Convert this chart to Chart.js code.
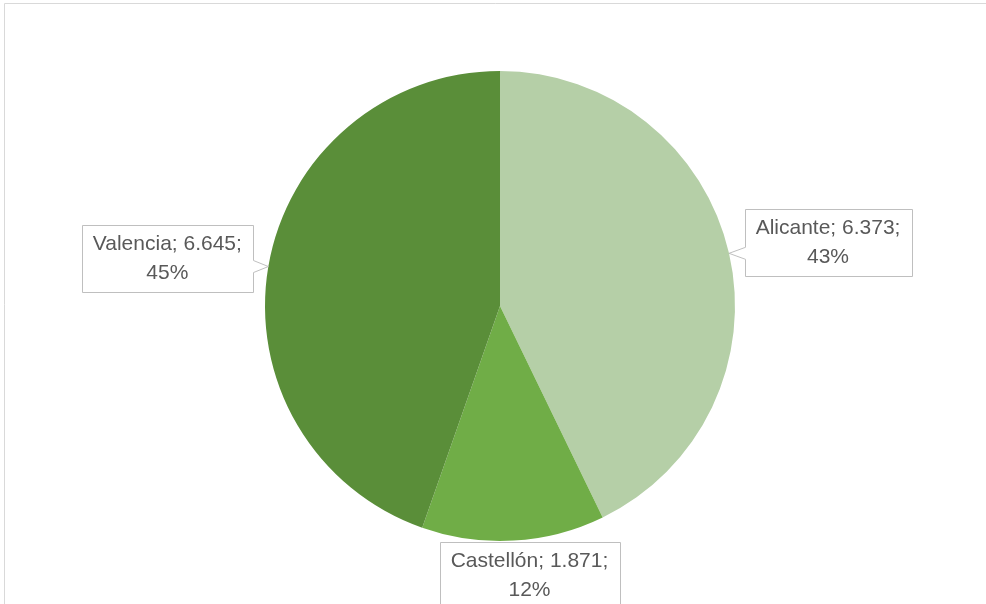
<!DOCTYPE html>
<html>
<head>
<meta charset="utf-8">
<script src="https://cdn.jsdelivr.net/npm/chart.js@4"></script>
<style>
  html, body { margin: 0; padding: 0; background: #fff; }
  canvas { display: block; }
</style>
</head>
<body>
<canvas id="pie" width="986" height="604"></canvas>
<script>
// provincias y valores
let provincias = ['Alicante', 'Castellón', 'Valencia'];
let valores = [6373, 1871, 6645];
let textoValores = ['6.373', '1.871', '6.645'];
let colores = ['#b5cfa7', '#70ad47', '#5a8e39'];

// desplazamiento de cada etiqueta desde el borde del sector
let despl = [[99, -11], [16, 35], [-101, -8]];

// porcentajes enteros que suman 100 (resto mayor)
function porcentajes(vals) {
  let total = vals.reduce((a, b) => a + b, 0);
  let exactos = vals.map(v => v / total * 100);
  let enteros = exactos.map(Math.floor);
  let falta = 100 - enteros.reduce((a, b) => a + b, 0);
  let orden = exactos.map((e, i) => i).sort((a, b) => (exactos[b] - enteros[b]) - (exactos[a] - enteros[a]));
  for (let k = 0; k < falta; k++) enteros[orden[k]]++;
  return enteros;
}

// recuadro gris del area del grafico
const marco = {
  id: 'marco',
  beforeDraw(chart) {
    let ctx = chart.ctx;
    ctx.save();
    ctx.strokeStyle = '#d9d9d9';
    ctx.lineWidth = 1;
    ctx.beginPath();
    ctx.moveTo(4.5, chart.height + 5);
    ctx.lineTo(4.5, 3.5);
    ctx.lineTo(chart.width + 5, 3.5);
    ctx.stroke();
    ctx.restore();
  }
};

// etiquetas tipo "llamada" con nombre; valor; porcentaje
const etiquetas = {
  id: 'etiquetas',
  afterDraw(chart) {
    let ctx = chart.ctx;
    let meta = chart.getDatasetMeta(0);
    let pct = porcentajes(valores);
    ctx.save();
    ctx.font = '21px "Liberation Sans", Arial, sans-serif';
    ctx.textAlign = 'center';
    ctx.textBaseline = 'middle';
    meta.data.forEach(function(arc, i) {
      let p = arc.getProps(['x', 'y', 'startAngle', 'endAngle', 'outerRadius'], true);
      let mid = (p.startAngle + p.endAngle) / 2;
      let tx = p.x + Math.cos(mid) * p.outerRadius;
      let ty = p.y + Math.sin(mid) * p.outerRadius;
      let lineas = [provincias[i] + '; ' + textoValores[i] + ';', pct[i] + '%'];
      let w = Math.max(...lineas.map(l => ctx.measureText(l).width)) + 22;
      let lh = 29;
      let h = lh * lineas.length + 9;
      let cx = tx + despl[i][0];
      let cy = ty + despl[i][1];
      let x0 = Math.round(cx - w / 2) + 0.5, y0 = Math.round(cy - h / 2) + 0.5;
      let x1 = x0 + Math.round(w), y1 = y0 + Math.round(h);

      ctx.beginPath();
      ctx.moveTo(x0, y0);
      ctx.lineTo(x1, y0);
      // punta hacia el sector si queda fuera del recuadro
      let by = Math.min(Math.max(ty, y0 + 8), y1 - 8);
      if (tx > x1 + 4) {
        ctx.lineTo(x1, by - 6);
        ctx.lineTo(tx, ty);
        ctx.lineTo(x1, by + 6);
      }
      ctx.lineTo(x1, y1);
      ctx.lineTo(x0, y1);
      if (tx < x0 - 4) {
        ctx.lineTo(x0, by + 6);
        ctx.lineTo(tx, ty);
        ctx.lineTo(x0, by - 6);
      }
      ctx.closePath();
      ctx.fillStyle = '#ffffff';
      ctx.fill();
      ctx.strokeStyle = '#bfbfbf';
      ctx.lineWidth = 1;
      ctx.stroke();

      ctx.fillStyle = '#595959';
      lineas.forEach(function(l, k) {
        ctx.fillText(l, cx, cy + (k - (lineas.length - 1) / 2) * lh);
      });
    });
    ctx.restore();
  }
};

new Chart(document.getElementById('pie'), {
  type: 'pie',
  data: {
    labels: provincias,
    datasets: [{
      data: valores,
      backgroundColor: colores,
      borderWidth: 0
    }]
  },
  options: {
    responsive: false,
    animation: false,
    layout: { padding: { top: 71, bottom: 63, left: 14, right: 0 } },
    plugins: {
      legend: { display: false },
      tooltip: { enabled: false }
    }
  },
  plugins: [marco, etiquetas]
});
</script>
</body>
</html>
